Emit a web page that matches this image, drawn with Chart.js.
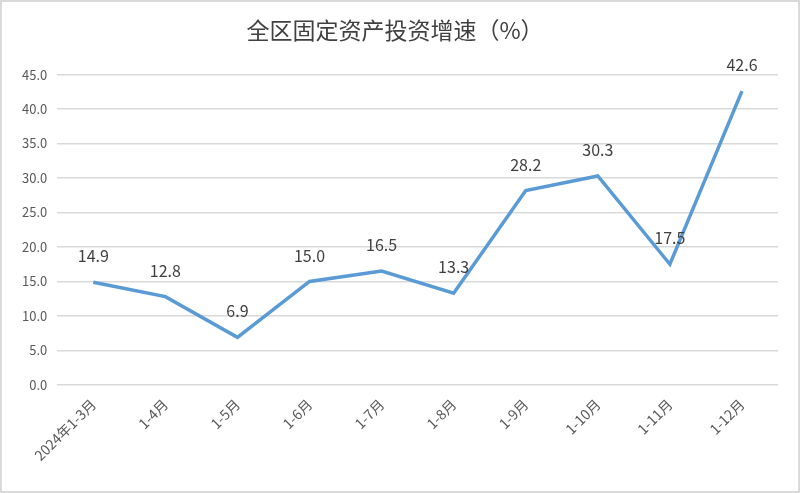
<!DOCTYPE html>
<html>
<head>
<meta charset="utf-8">
<script src="https://cdn.jsdelivr.net/npm/chart.js@4/dist/chart.umd.min.js"></script>
<style>
  html, body { margin: 0; padding: 0; background: #fff; }
  #wrap { width: 800px; height: 493px; box-sizing: border-box; border: 2px solid #d9d9d9; }
</style>
</head>
<body>
<div id="wrap"><canvas id="growthChart" width="796" height="489"></canvas></div>
<script>
// chart data
var periods = ['2024年1-3月', '1-4月', '1-5月', '1-6月', '1-7月', '1-8月', '1-9月', '1-10月', '1-11月', '1-12月'];
var growth = [14.9, 12.8, 6.9, 15.0, 16.5, 13.3, 28.2, 30.3, 17.5, 42.6];

var labelFont = "'Liberation Sans Narrow', 'Noto Sans CJK SC', sans-serif";

// draws the value above every point
var valueLabels = {
    id: 'valueLabels',
    afterDatasetsDraw: function (chart) {
        var ctx = chart.ctx;
        var meta = chart.getDatasetMeta(0);
        ctx.save();
        ctx.fillStyle = '#404040';
        ctx.font = '16px ' + labelFont;
        ctx.textAlign = 'center';
        ctx.textBaseline = 'middle';
        meta.data.forEach(function (pt, i) {
            ctx.fillText(growth[i].toFixed(1), pt.x, pt.y - 26);
        });
        ctx.restore();
    }
};

const ctx = document.getElementById('growthChart').getContext('2d');
const myChart = new Chart(ctx, {
    type: 'line',
    data: {
        labels: periods,
        datasets: [{
            label: '全区固定资产投资增速',
            data: growth,
            borderColor: '#5b9bd5',
            borderWidth: 3.5,
            pointRadius: 0,
            tension: 0,
            fill: false
        }]
    },
    options: {
        responsive: false,
        animation: false,
        layout: { padding: { left: 10, right: 20, top: 8, bottom: 24 } },
        plugins: {
            legend: { display: false },
            tooltip: { enabled: false },
            title: {
                display: true,
                text: '全区固定资产投资增速（%）',
                color: '#404040',
                font: { family: "'Noto Sans CJK SC', sans-serif", size: 23, weight: 'normal' },
                padding: { top: 6, bottom: 31 }
            }
        },
        scales: {
            x: {
                offset: true,
                grid: { display: false },
                border: { display: false },
                ticks: {
                    color: '#595959',
                    font: { family: labelFont, size: 14 },
                    maxRotation: 45,
                    minRotation: 45,
                    autoSkip: false
                }
            },
            y: {
                min: 0,
                max: 45,
                grid: { color: '#d9d9d9', lineWidth: 1.5, drawTicks: false },
                border: { display: false },
                ticks: {
                    stepSize: 5,
                    color: '#595959',
                    padding: 10,
                    font: { family: labelFont, size: 13 },
                    callback: function (v) { return v.toFixed(1); }
                }
            }
        }
    },
    plugins: [valueLabels]
});
</script>
</body>
</html>
